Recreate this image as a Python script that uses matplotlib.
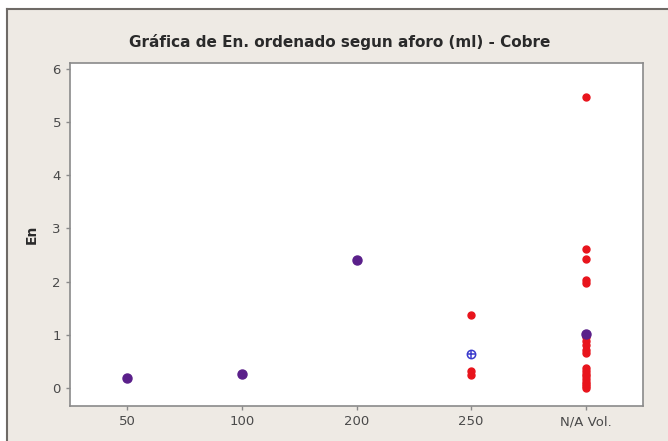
import matplotlib
matplotlib.use("Agg")
import matplotlib.pyplot as plt
from matplotlib.patches import Rectangle

categories = ["50", "100", "200", "250", "N/A Vol."]

# Points where both groups coincide (drawn purple)
shared_cat = ["50", "100", "200", "N/A Vol."]
shared_en = [0.18, 0.27, 2.40, 1.02]

# Individual En values (red dots)
red_cat = ["250", "250", "250"] + ["N/A Vol."] * 19
red_en = [1.37, 0.32, 0.24,
          5.48, 2.62, 2.42, 2.03, 1.98, 0.95, 0.88, 0.80, 0.72, 0.65,
          0.38, 0.32, 0.27, 0.22, 0.17, 0.12, 0.08, 0.03, 0.00]

# Reference value (blue crossed circle)
blue_cat = ["250"]
blue_en = [0.63]

y_ticks = [0, 1, 2, 3, 4, 5, 6]

bg = "#EEEAE4"
fig = plt.figure(figsize=(6.68, 4.41), dpi=100, facecolor="white")
# panel background with a dark top/left edge
fig.patches.append(Rectangle((7 / 668, 0), 1, 1 - 9 / 441, transform=fig.transFigure,
                             facecolor=bg, edgecolor="none", zorder=-10))
fig.lines.append(plt.Line2D([7 / 668, 7 / 668], [0, 1 - 9 / 441], transform=fig.transFigure,
                            color="#6E6A66", lw=1.5, zorder=-5))
fig.lines.append(plt.Line2D([7 / 668, 1], [1 - 9 / 441, 1 - 9 / 441], transform=fig.transFigure,
                            color="#6E6A66", lw=1.5, zorder=-5))

ax = fig.add_axes([70 / 668, 1 - 406 / 441, (643 - 70) / 668, (406 - 63) / 441])
ax.set_facecolor("white")

pos = {c: i for i, c in enumerate(categories)}

ax.plot([pos[c] for c in red_cat], red_en, "o", color="#E8141C", ms=5, mec="#E8141C", zorder=3)
ax.plot([pos[c] for c in blue_cat], blue_en, "o", ms=6, mfc="none", mec="#3A3ACC", mew=1.1, zorder=4)
ax.plot([pos[c] for c in blue_cat], blue_en, "+", ms=6, color="#3A3ACC", mew=1.1, zorder=4)
ax.plot([pos[c] for c in shared_cat], shared_en, "o", color="#5A1F8A", ms=6.5, zorder=5)

ax.set_xlim(-0.5, 4.5)
ax.set_ylim(-0.34, 6.11)
ax.set_xticks(range(len(categories)))
ax.set_xticklabels(categories)
ax.set_yticks(y_ticks)

for s in ax.spines.values():
    s.set_color("#8A8A8A")
    s.set_linewidth(1.2)
ax.tick_params(colors="#8A8A8A", labelcolor="#4A4A4A", labelsize=9.5, length=3, width=1)

ax.set_ylabel("En", fontsize=10, fontweight="bold", color="#2A2A2A", labelpad=10)
fig.text(340 / 668, 1 - 42 / 441, "Gráfica de En. ordenado segun aforo (ml) - Cobre",
         ha="center", va="center", fontsize=11, fontweight="bold", color="#2A2A2A")

fig.savefig("out.png", dpi=100, facecolor=fig.get_facecolor())
